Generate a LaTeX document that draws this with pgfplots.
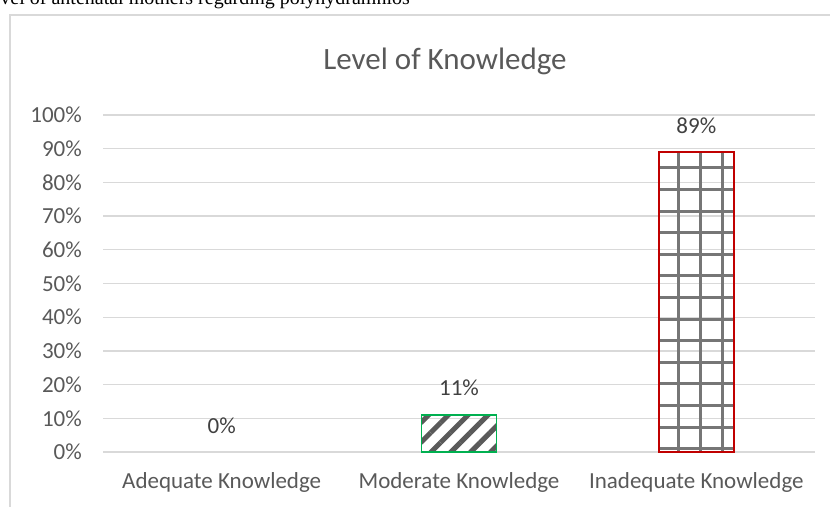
\documentclass[border=0pt]{standalone}
\usepackage{pgfplots}
\pgfplotsset{compat=1.18}
\usetikzlibrary{patterns,patterns.meta}
\usepackage{fontspec}
\setmainfont{Carlito}
\newfontfamily\timesf{Liberation Serif}
\definecolor{gridgray}{HTML}{D9D9D9}
\definecolor{framegray}{HTML}{D9D9D9}
\definecolor{ticktext}{HTML}{595959}
\definecolor{datatext}{HTML}{404040}
\definecolor{hatchgray}{HTML}{5A5A5A}
\definecolor{meshgray}{HTML}{767676}
\definecolor{bargreen}{HTML}{00B050}
\definecolor{barred}{HTML}{C00000}
\pgfdeclarepatternformonly{bigmesh}{\pgfqpoint{0bp}{0bp}}{\pgfqpoint{220bp}{432bp}}{\pgfqpoint{220bp}{432bp}}{%
  \pgfsetlinewidth{3bp}%
  \foreach \k in {0,...,9}{%
    \pgfpathmoveto{\pgfpoint{18bp+\k*22bp}{0bp}}%
    \pgfpathlineto{\pgfpoint{18bp+\k*22bp}{432bp}}%
  }%
  \foreach \k in {0,...,19}{%
    \pgfpathmoveto{\pgfpoint{0bp}{15bp+\k*21.6bp}}%
    \pgfpathlineto{\pgfpoint{220bp}{15bp+\k*21.6bp}}%
  }%
  \pgfusepath{stroke}%
}
\begin{document}
\begin{tikzpicture}
\path[use as bounding box] (0,0) rectangle (830bp,507bp);
\clip (0,0) rectangle (830bp,507bp);
\node[anchor=base east, inner sep=0pt, font=\timesf\fontsize{20bp}{24bp}\selectfont] at (410bp,502bp) {Knowledge level of antenatal mothers regarding polyhydramnios};
\draw[framegray, line width=2bp] (10bp,-5bp) -- (10bp,492bp) -- (850bp,492bp);
\node[anchor=base, inner sep=0pt, text=ticktext, font=\fontsize{31bp}{36bp}\selectfont] at (445bp,437bp) {Level of Knowledge};
\begin{axis}[
  at={(103bp,55bp)}, anchor=south west,
  scale only axis, width=712bp, height=337bp,
  xmin=-0.5, xmax=2.5, ymin=0, ymax=100,
  ybar, bar width=75bp,
  axis x line*=bottom, axis y line*=left,
  x axis line style={gridgray, line width=1.3bp},
  y axis line style={draw=none},
  ymajorgrids, grid style={gridgray, line width=1.3bp},
  major tick length=0pt,
  xtick={0,1,2},
  xticklabels={Adequate Knowledge, Moderate Knowledge, Inadequate Knowledge},
  ytick={0,10,...,100},
  yticklabel={\pgfmathprintnumber[assume math mode=true]{\tick}\%},
  yticklabel style={anchor=east, inner sep=0pt, xshift=-21bp, text=ticktext, font=\fontsize{23bp}{27bp}\selectfont},
  xticklabel style={anchor=base, inner sep=0pt, yshift=-36bp, text=ticktext, font=\fontsize{23bp}{27bp}\selectfont},
  nodes near coords={\pgfmathprintnumber[assume math mode=true]{\pgfplotspointmeta}\%},
  every node near coord/.append style={anchor=base, inner sep=0pt, yshift=19bp, text=datatext, font=\fontsize{23bp}{27bp}\selectfont},
  clip=false,
]
\addplot[bar shift=0pt, draw=none, fill=none] coordinates {(0,0)};
\addplot[bar shift=0pt, draw=bargreen, line width=1.5bp, pattern={Lines[angle=45,distance=14bp,line width=5bp]}, pattern color=hatchgray] coordinates {(1,11)};
\addplot[bar shift=0pt, draw=barred, line width=1.5bp, pattern=bigmesh, pattern color=meshgray] coordinates {(2,89)};
\end{axis}
\end{tikzpicture}
\end{document}
